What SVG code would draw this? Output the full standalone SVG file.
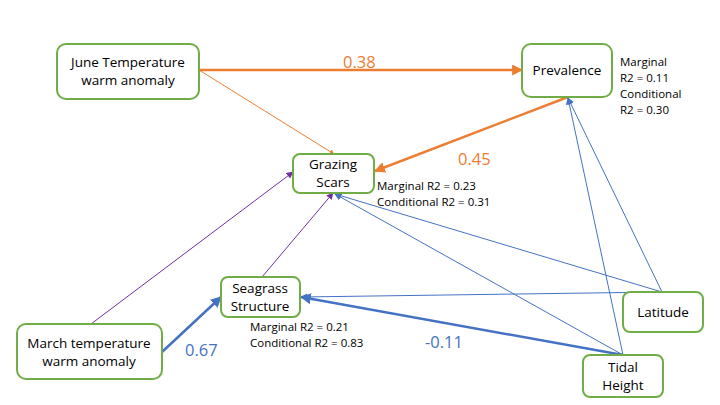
<svg xmlns="http://www.w3.org/2000/svg" width="720" height="405" viewBox="0 0 720 405">
<defs>
<marker id="ao" viewBox="0 0 10 10" refX="9" refY="5" markerWidth="5" markerHeight="5" orient="auto" markerUnits="userSpaceOnUse"><path d="M0,0 L10,5 L0,10 z" fill="#ED7D31"/></marker>
<marker id="aob" viewBox="0 0 10 10" refX="9" refY="5" markerWidth="11" markerHeight="11" orient="auto" markerUnits="userSpaceOnUse"><path d="M0,0 L10,5 L0,10 z" fill="#ED7D31"/></marker>
<marker id="ab" viewBox="0 0 10 10" refX="9" refY="5" markerWidth="7" markerHeight="7" orient="auto" markerUnits="userSpaceOnUse"><path d="M0,0 L10,5 L0,10 z" fill="#4472C4"/></marker>
<marker id="abb" viewBox="0 0 10 10" refX="9" refY="5" markerWidth="11" markerHeight="11" orient="auto" markerUnits="userSpaceOnUse"><path d="M0,0 L10,5 L0,10 z" fill="#4472C4"/></marker>
<marker id="ap" viewBox="0 0 10 10" refX="9" refY="5" markerWidth="7" markerHeight="7" orient="auto" markerUnits="userSpaceOnUse"><path d="M0,0 L10,5 L0,10 z" fill="#7030A0"/></marker>
</defs>
<style>
.box{fill:#fff;stroke:#70AD47;stroke-width:2}
.t{font-family:"Open Sans","Liberation Sans",sans-serif;font-size:13.5px;fill:#000;text-anchor:middle}
.a{font-family:"Open Sans","Liberation Sans",sans-serif;font-size:11.5px;fill:#000}
.lo{font-family:"Open Sans","Liberation Sans",sans-serif;font-size:16.5px;fill:#ED7D31}
.lb{font-family:"Open Sans","Liberation Sans",sans-serif;font-size:16.5px;fill:#4472C4}
.o{stroke:#ED7D31;fill:none}
.b{stroke:#4472C4;fill:none}
.p{stroke:#7030A0;fill:none}
</style>
<rect width="720" height="405" fill="#fff"/>
<g id="connectors">
<line class="o" stroke-width="2.5" x1="199" y1="70" x2="522" y2="70" marker-end="url(#aob)"/>
<line class="o" stroke-width="1" x1="199" y1="70" x2="334" y2="154" marker-end="url(#ao)"/>
<line class="o" stroke-width="2.5" x1="568" y1="97" x2="375" y2="171" marker-end="url(#aob)"/>
<line class="p" stroke-width="1" x1="91" y1="324" x2="293" y2="172" marker-end="url(#ap)"/>
<line class="p" stroke-width="1" x1="262" y1="277" x2="333" y2="193" marker-end="url(#ap)"/>
<line class="b" stroke-width="1" x1="662" y1="292" x2="335" y2="194" marker-end="url(#ab)"/>
<line class="b" stroke-width="1" x1="662" y1="292" x2="301" y2="297" marker-end="url(#ab)"/>
<line class="b" stroke-width="1" x1="662" y1="292" x2="568" y2="98" marker-end="url(#ab)"/>
<line class="b" stroke-width="1" x1="623" y1="355" x2="568" y2="98" marker-end="url(#ab)"/>
<line class="b" stroke-width="1" x1="623" y1="355" x2="335" y2="194" marker-end="url(#ab)"/>
<line class="b" stroke-width="2.5" x1="623" y1="355" x2="301" y2="297" marker-end="url(#abb)"/>
<line class="b" stroke-width="2.5" x1="162" y1="352" x2="221" y2="297" marker-end="url(#abb)"/>
<text class="lo" x="343" y="68">0.38</text>
<text class="lo" x="458" y="165">0.45</text>
<text class="lb" x="185" y="356">0.67</text>
<text class="lb" x="425" y="348">-0.11</text>
</g>
<g id="june"><rect class="box" x="57" y="44" width="142" height="55" rx="9"/><text class="t" x="128" y="67">June Temperature</text><text class="t" x="128" y="85">warm anomaly</text></g>
<g id="prevalence"><rect class="box" x="522" y="44" width="90" height="53" rx="9"/><text class="t" x="567" y="75">Prevalence</text>
<text class="a" x="620" y="66">Marginal</text><text class="a" x="620" y="82">R2 = 0.11</text><text class="a" x="620" y="98">Conditional</text><text class="a" x="620" y="114">R2 = 0.30</text></g>
<g id="grazing"><rect class="box" x="293" y="154" width="81" height="39" rx="7"/><text class="t" x="333" y="169">Grazing</text><text class="t" x="333" y="187">Scars</text>
<text class="a" x="377" y="190">Marginal R2 = 0.23</text><text class="a" x="377" y="206">Conditional R2 = 0.31</text></g>
<g id="seagrass"><rect class="box" x="221" y="277" width="79" height="40" rx="7"/><text class="t" x="260" y="293">Seagrass</text><text class="t" x="260" y="311">Structure</text>
<text class="a" x="250" y="331">Marginal R2 = 0.21</text><text class="a" x="250" y="347">Conditional R2 = 0.83</text></g>
<g id="march"><rect class="box" x="17" y="324" width="145" height="55" rx="9"/><text class="t" x="89" y="348">March temperature</text><text class="t" x="89" y="366">warm anomaly</text></g>
<g id="latitude"><rect class="box" x="623" y="292" width="80" height="40" rx="7"/><text class="t" x="663" y="317">Latitude</text></g>
<g id="tidal"><rect class="box" x="583" y="355" width="80" height="42" rx="7"/><text class="t" x="623" y="372">Tidal</text><text class="t" x="623" y="390">Height</text></g>
</svg>
